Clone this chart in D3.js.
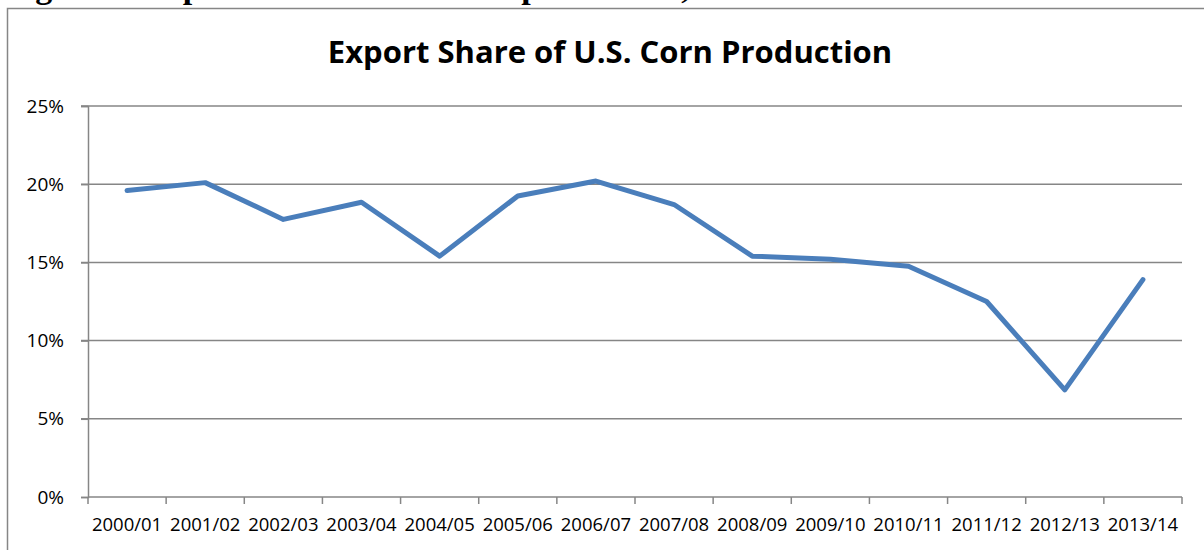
<!DOCTYPE html>
<html>
<head>
<meta charset="utf-8">
<script src="https://cdn.jsdelivr.net/npm/d3@7"></script>
<style>
  html, body { margin: 0; padding: 0; background: #fff; }
  svg { display: block; }
</style>
</head>
<body>
<script>
const categories = ["2000/01","2001/02","2002/03","2003/04","2004/05","2005/06","2006/07","2007/08","2008/09","2009/10","2010/11","2011/12","2012/13","2013/14"];
const exportShare = [19.6, 20.1, 17.75, 18.85, 15.4, 19.25, 20.2, 18.7, 15.4, 15.2, 14.75, 12.5, 6.85, 13.9];
const yTicks = [0, 5, 10, 15, 20, 25];
const chartTitle = "Export Share of U.S. Corn Production";
const captionText = "Figure 2. Export share of U.S. corn production, 2000-13";

const W = 1204, H = 550;
const svg = d3.select("body").append("svg").attr("width", W).attr("height", H);

// partially cut-off caption above the chart frame (as in the reference crop)
svg.append("text")
  .attr("x", 5).attr("y", -2)
  .attr("font-family", "Liberation Serif, serif")
  .attr("font-weight", "bold")
  .attr("font-size", 34)
  .attr("fill", "#000")
  .text(captionText);

// chart frame
svg.append("rect")
  .attr("x", 7.5).attr("y", 8.5)
  .attr("width", W + 20).attr("height", H + 20)
  .attr("fill", "#fff")
  .attr("stroke", "#868686").attr("stroke-width", 1.5);

const plotLeft = 88, plotRight = 1182, plotTop = 106, plotBottom = 497;

const x = d3.scaleBand().domain(categories).range([plotLeft, plotRight]);
const y = d3.scaleLinear().domain([0, 25]).range([plotBottom, plotTop]);

// gridlines
svg.append("g").selectAll("line").data(yTicks.filter(d => d > 0)).join("line")
  .attr("x1", plotLeft - 7).attr("x2", plotRight)
  .attr("y1", d => y(d)).attr("y2", d => y(d))
  .attr("stroke", "#868686").attr("stroke-width", 1.5);

// y axis
const yAxis = d3.axisLeft(y).tickValues(yTicks).tickSize(7).tickFormat(d => d + "%");
const gy = svg.append("g").attr("transform", `translate(${plotLeft},0)`).call(yAxis);
gy.select(".domain").attr("stroke", "#868686").attr("stroke-width", 1.5);
gy.selectAll(".tick line").attr("stroke", "#868686").attr("stroke-width", 1.5);
gy.selectAll(".tick text")
  .attr("x", -24)
  .attr("font-family", "Open Sans, Liberation Sans, sans-serif")
  .attr("font-size", 19).attr("fill", "#000");

// x axis with ticks at band boundaries
const gx = svg.append("g").attr("transform", `translate(0,${plotBottom})`);
gx.append("line").attr("x1", plotLeft).attr("x2", plotRight).attr("y1", 0).attr("y2", 0)
  .attr("stroke", "#868686").attr("stroke-width", 1.5);
const boundaries = categories.map(c => x(c)).concat([x(categories[categories.length - 1]) + x.bandwidth()]);
gx.selectAll("line.tk").data(boundaries).join("line").attr("class", "tk")
  .attr("x1", d => d).attr("x2", d => d).attr("y1", 0).attr("y2", 7)
  .attr("stroke", "#868686").attr("stroke-width", 1.5);
gx.selectAll("text").data(categories).join("text")
  .attr("x", d => x(d) + x.bandwidth() / 2)
  .attr("y", 34)
  .attr("text-anchor", "middle")
  .attr("font-family", "Open Sans, Liberation Sans, sans-serif")
  .attr("font-size", 18.5).attr("fill", "#000")
  .text(d => d);

// title
svg.append("text")
  .attr("x", 610).attr("y", 63)
  .attr("text-anchor", "middle")
  .attr("font-family", "Open Sans, Liberation Sans, sans-serif")
  .attr("font-weight", "bold")
  .attr("font-size", 31).attr("fill", "#000")
  .text(chartTitle);

// line
const line = d3.line()
  .x((d, i) => x(categories[i]) + x.bandwidth() / 2)
  .y(d => y(d));
svg.append("path").datum(exportShare)
  .attr("d", line)
  .attr("fill", "none")
  .attr("stroke", "#4A7EBB")
  .attr("stroke-width", 5)
  .attr("stroke-linejoin", "round")
  .attr("stroke-linecap", "round");
</script>
</body>
</html>
